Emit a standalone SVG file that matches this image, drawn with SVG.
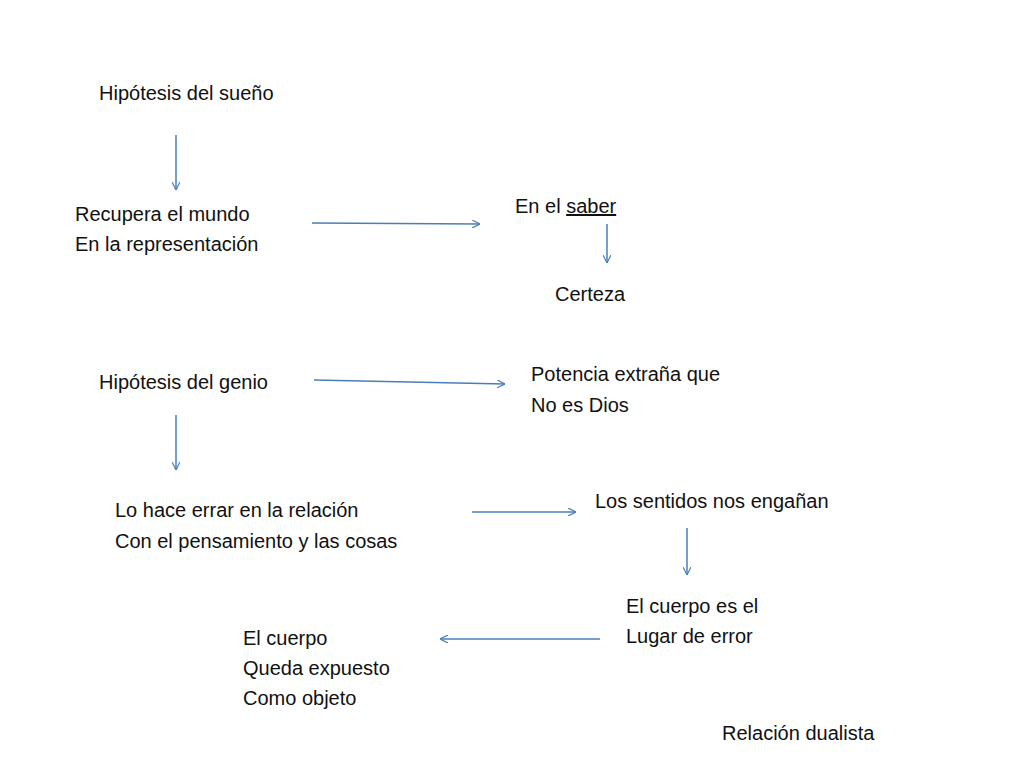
<svg xmlns="http://www.w3.org/2000/svg" width="1024" height="768" viewBox="0 0 1024 768">
<style>
text{font-family:"Liberation Sans",Arial,sans-serif;font-size:20px;fill:#111}
.c line{stroke:#4a7ebb;stroke-width:1.5;marker-end:url(#a)}
</style>
<defs><marker id="a" viewBox="0 0 10 10" refX="10" refY="5" markerWidth="8" markerHeight="8" orient="auto" markerUnits="userSpaceOnUse"><path d="M0,0L10,5L0,10" fill="none" stroke="#4a7ebb" stroke-width="1.5"/></marker></defs>
<rect width="1024" height="768" fill="#fff"/>
<g class="c">
<line x1="176" y1="135" x2="176" y2="190"/>
<line x1="312" y1="223" x2="480" y2="224"/>
<line x1="607" y1="224" x2="607" y2="263"/>
<line x1="314" y1="380" x2="505" y2="384"/>
<line x1="176" y1="415" x2="176" y2="470"/>
<line x1="472" y1="512" x2="576" y2="512"/>
<line x1="687" y1="528" x2="687" y2="575"/>
<line x1="600" y1="639" x2="440" y2="639"/>
</g>
<g id="n1"><text x="99" y="100">Hipótesis del sueño</text></g>
<g id="n2"><text x="75" y="221">Recupera el mundo</text><text x="75" y="251">En la representación</text></g>
<g id="n3"><text x="515" y="213">En el <tspan text-decoration="underline">saber </tspan></text></g>
<g id="n4"><text x="555" y="301">Certeza</text></g>
<g id="n5"><text x="99" y="389">Hipótesis del genio</text></g>
<g id="n6"><text x="531" y="381">Potencia extraña que</text><text x="531" y="412">No es Dios</text></g>
<g id="n7"><text x="115" y="517">Lo hace errar en la relación</text><text x="115" y="548">Con el pensamiento y las cosas</text></g>
<g id="n8"><text x="595" y="508">Los sentidos nos engañan</text></g>
<g id="n9"><text x="626" y="613">El cuerpo es el</text><text x="626" y="643">Lugar de error</text></g>
<g id="n10"><text x="243" y="645">El cuerpo</text><text x="243" y="675">Queda expuesto</text><text x="243" y="705">Como objeto</text></g>
<g id="n11"><text x="722" y="740">Relación dualista</text></g>
</svg>
